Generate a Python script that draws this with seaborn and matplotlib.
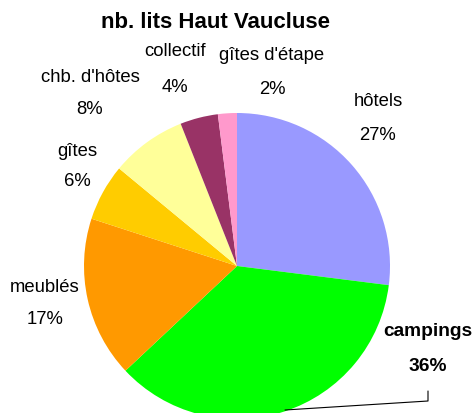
import matplotlib
matplotlib.use("Agg")
import matplotlib.pyplot as plt
import seaborn as sns

categories = ["hôtels", "campings", "meublés", "gîtes", "chb. d'hôtes", "collectif", "gîtes d'étape"]
values = [27, 36, 17, 6, 8, 4, 2]
colors = ["#9999FF", "#00FF00", "#FF9900", "#FFCC00", "#FFFF99", "#993366", "#FF99CC"]
title = "nb. lits Haut Vaucluse"

sns.set_style("white")
plt.rcParams["font.family"] = ["Liberation Sans", "DejaVu Sans"]
plt.rcParams["text.color"] = "black"

W, H = 475, 414
fig = plt.figure(figsize=(W / 100, H / 100), dpi=100)
ax = fig.add_axes([0, 0, 1, 1])

cx, cy, r = 237, H - 267, 153
ax.pie(values, colors=colors, startangle=90, counterclock=False,
       center=(cx, cy), radius=r, wedgeprops=dict(linewidth=0))
ax.set_xlim(0, W)
ax.set_ylim(0, H)
ax.set_aspect("equal")
ax.axis("off")

# label positions (pixel coords, y from top)
label_pos = [(378, 102, 135), (428, 332, 367), (45, 287, 320), (77, 152, 182),
             (90, 78, 110), (175, 52, 87), (272, 56, 90)]
for i, (cat, val) in enumerate(zip(categories, values)):
    x, y1, y2 = label_pos[i]
    bold = cat == "campings"
    fw = "bold" if bold else "normal"
    fs = 13.8 if bold else 13.3
    ax.text(x, H - y1, cat, ha="center", va="center", fontsize=fs, fontweight=fw, color="black")
    ax.text(x, H - y2, f"{val}%", ha="center", va="center", fontsize=fs, fontweight=fw, color="black")

# leader line for campings
ax.plot([285, 428, 428], [H - 411, H - 402, H - 392], color="black", lw=0.8)

ax.text(215, H - 22, title, ha="center", va="center", fontsize=16, fontweight="bold", color="black")

fig.savefig("out.png", dpi=100)
